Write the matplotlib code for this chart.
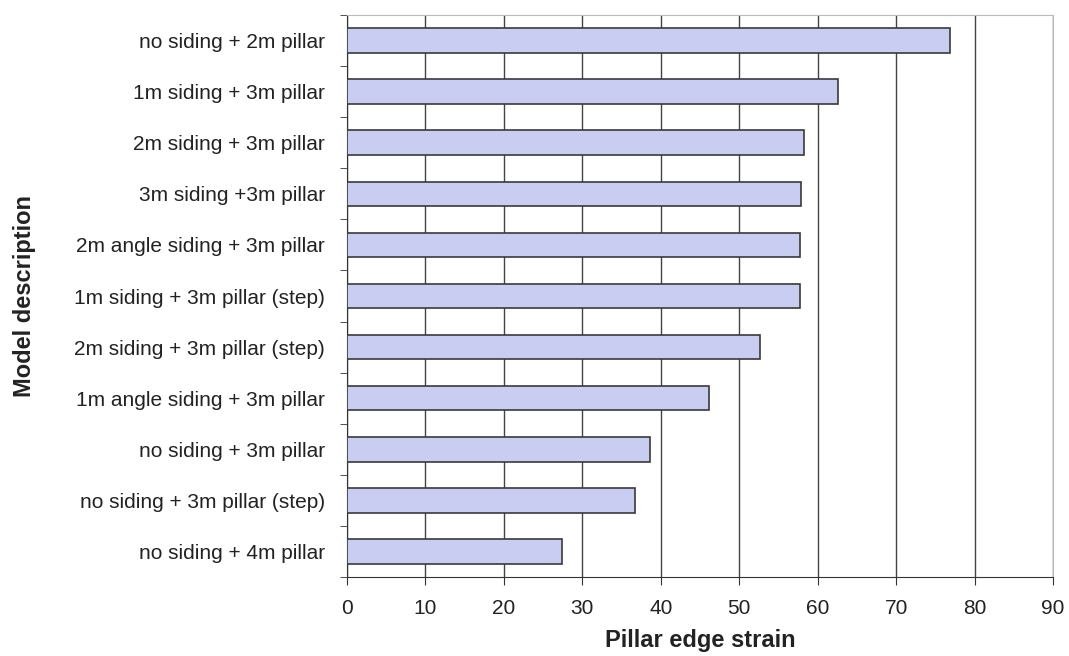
import numpy as np
import matplotlib.pyplot as plt

plt.rcParams['font.family'] = ['Liberation Sans', 'DejaVu Sans']

models = ['no siding + 2m pillar', '1m siding + 3m pillar', '2m siding + 3m pillar',
          '3m siding +3m pillar', '2m angle siding + 3m pillar',
          '1m siding + 3m pillar (step)', '2m siding + 3m pillar (step)',
          '1m angle siding + 3m pillar', 'no siding + 3m pillar',
          'no siding + 3m pillar (step)', 'no siding + 4m pillar']
strain = [76.9, 62.6, 58.3, 57.9, 57.8, 57.7, 52.7, 46.2, 38.6, 36.7, 27.4]

fig = plt.figure(figsize=(10.69, 6.56), dpi=100)
ax = fig.add_axes([0.3246, 0.1204, 0.6604, 0.8567])

y = np.arange(len(models))[::-1]
ax.barh(y, strain, height=0.48, color='#c9cdf2', edgecolor='#3a3a3a', linewidth=1.2, zorder=3)

ax.set_xlim(0, 90)
ax.set_ylim(-0.5, len(models) - 0.5)
ax.set_xticks(range(0, 91, 10))
ax.xaxis.grid(True, color='#444444', linewidth=1.0, zorder=0)
ax.set_yticks(y)
ax.set_yticklabels(models)
ax.set_yticks(np.arange(-0.5, len(models), 1), minor=True)
ax.tick_params(axis='y', which='major', length=0, pad=16, labelsize=15, labelcolor='#222222')
ax.tick_params(axis='y', which='minor', length=5, color='#333333')
ax.tick_params(axis='x', length=6, pad=10, labelsize=15, labelcolor='#222222', color='#333333')

for s in ['top', 'right']:
    ax.spines[s].set_color('#bbbbbb')
for s in ['left', 'bottom']:
    ax.spines[s].set_color('#333333')

# axis titles placed in figure coords to match the original layout
fig.text(0.655, 1 - 640 / 656, 'Pillar edge strain', fontsize=17, fontweight='bold',
         color='#222222', ha='center', va='center')
fig.text(25 / 1069, 1 - 296 / 656, 'Model description', fontsize=17, fontweight='bold',
         color='#222222', ha='center', va='center', rotation=90)

fig.savefig('out.png', dpi=100)
